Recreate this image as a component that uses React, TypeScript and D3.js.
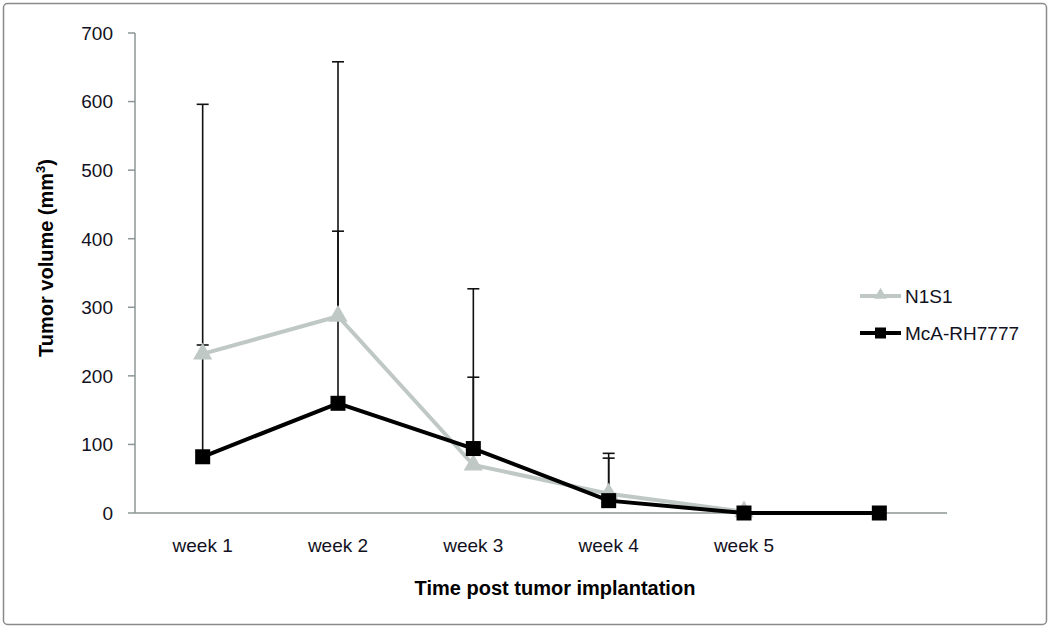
import { useEffect, useRef } from 'react';
import * as d3 from 'd3';

// categories on the x axis (last one has no label)
const weeks = ['week 1', 'week 2', 'week 3', 'week 4', 'week 5', ''];

// N1S1 means and upper error bars
const n1s1Values = [232, 287, 70, 28, 2];
const n1s1Upper = [245, 411, 198, 87, 6];

// McA-RH7777 means and upper error bars
const mcaValues = [82, 160, 94, 18, 0, 0];
const mcaUpper = [596, 658, 327, 80, 5, null];

const yTicks = [0, 100, 200, 300, 400, 500, 600, 700];

export default function App() {
  const svgRef = useRef<SVGSVGElement>(null);

  useEffect(() => {
    if (!svgRef.current) return;
    const svg = d3.select(svgRef.current);
    svg.selectAll('*').remove();

    const width = 1050;
    const height = 628;
    const left = 135;
    const right = 947;
    const top = 33;
    const bottom = 513;
    const font = 'Arial, "Liberation Sans", sans-serif';
    const textColor = '#111122';
    const axisColor = '#8c9696';

    // outer frame
    svg.append('rect')
      .attr('x', 3.5).attr('y', 3.5)
      .attr('width', width - 7).attr('height', height - 7)
      .attr('rx', 4)
      .attr('fill', '#fff')
      .attr('stroke', '#8a8a8a')
      .attr('stroke-width', 1.5);

    const x = d3.scaleBand<string>()
      .domain(weeks.map((w, i) => `${i}`))
      .range([left, right]);
    const cx = (i: number) => (x(`${i}`) as number) + x.bandwidth() / 2;

    const y = d3.scaleLinear().domain([0, 700]).range([bottom, top]);

    // y axis
    const yAxis = svg.append('g');
    yAxis.append('line')
      .attr('x1', left).attr('x2', left)
      .attr('y1', y(700)).attr('y2', bottom)
      .attr('stroke', axisColor).attr('stroke-width', 1.5);
    yTicks.forEach(t => {
      yAxis.append('line')
        .attr('x1', left - 7).attr('x2', left)
        .attr('y1', y(t)).attr('y2', y(t))
        .attr('stroke', axisColor).attr('stroke-width', 1.5);
      yAxis.append('text')
        .attr('x', 113).attr('y', y(t))
        .attr('dy', '0.36em')
        .attr('text-anchor', 'end')
        .attr('font-family', font).attr('font-size', 19)
        .attr('fill', textColor)
        .text(t);
    });

    // x axis
    svg.append('line')
      .attr('x1', left).attr('x2', right)
      .attr('y1', bottom).attr('y2', bottom)
      .attr('stroke', axisColor).attr('stroke-width', 1.5);
    weeks.forEach((w, i) => {
      svg.append('text')
        .attr('x', cx(i)).attr('y', 552)
        .attr('text-anchor', 'middle')
        .attr('font-family', font).attr('font-size', 19)
        .attr('fill', textColor)
        .text(w);
    });

    // axis titles
    svg.append('text')
      .attr('x', 555).attr('y', 595)
      .attr('text-anchor', 'middle')
      .attr('font-family', font).attr('font-size', 20).attr('font-weight', 'bold')
      .attr('fill', '#000')
      .text('Time post tumor implantation');

    const yTitle = svg.append('text')
      .attr('transform', `translate(53, 258) rotate(-90)`)
      .attr('text-anchor', 'middle')
      .attr('font-family', font).attr('font-size', 20).attr('font-weight', 'bold')
      .attr('fill', '#000');
    yTitle.append('tspan').text('Tumor volume (mm');
    yTitle.append('tspan').attr('font-size', 13).attr('dy', -8).text('3');
    yTitle.append('tspan').attr('dy', 8).text(')');

    // error bars
    const drawErrors = (vals: number[], ups: (number | null)[]) => {
      ups.forEach((u, i) => {
        if (u == null) return;
        svg.append('line')
          .attr('x1', cx(i)).attr('x2', cx(i))
          .attr('y1', y(vals[i])).attr('y2', y(u))
          .attr('stroke', '#111').attr('stroke-width', 1.6);
        svg.append('line')
          .attr('x1', cx(i) - 6).attr('x2', cx(i) + 6)
          .attr('y1', y(u)).attr('y2', y(u))
          .attr('stroke', '#111').attr('stroke-width', 1.6);
      });
    };
    drawErrors(mcaValues, mcaUpper);
    drawErrors(n1s1Values, n1s1Upper);

    const line = d3.line<number>()
      .x((d, i) => cx(i))
      .y(d => y(d));

    const gray = '#bfc8c5';

    // N1S1 series
    svg.append('path')
      .datum(n1s1Values)
      .attr('d', line)
      .attr('fill', 'none')
      .attr('stroke', gray)
      .attr('stroke-width', 4);
    const tri = d3.symbol().type(d3.symbolTriangle).size(160);
    svg.selectAll('.tri')
      .data(n1s1Values)
      .join('path')
      .attr('class', 'tri')
      .attr('d', tri)
      .attr('transform', (d, i) => `translate(${cx(i)},${y(d)})`)
      .attr('fill', gray);

    // McA-RH7777 series
    svg.append('path')
      .datum(mcaValues)
      .attr('d', line)
      .attr('fill', 'none')
      .attr('stroke', '#000')
      .attr('stroke-width', 4);
    svg.selectAll('.sq')
      .data(mcaValues)
      .join('rect')
      .attr('class', 'sq')
      .attr('x', (d, i) => cx(i) - 7.5)
      .attr('y', d => y(d) - 7.5)
      .attr('width', 15).attr('height', 15)
      .attr('fill', '#000');

    // legend
    const legend = svg.append('g');
    const items = [
      { name: 'N1S1', color: gray, marker: 'tri' },
      { name: 'McA-RH7777', color: '#000', marker: 'sq' }
    ];
    items.forEach((it, i) => {
      const ly = 296 + i * 37;
      legend.append('line')
        .attr('x1', 860).attr('x2', 901)
        .attr('y1', ly).attr('y2', ly)
        .attr('stroke', it.color).attr('stroke-width', 4);
      if (it.marker === 'tri') {
        legend.append('path')
          .attr('d', d3.symbol().type(d3.symbolTriangle).size(70)())
          .attr('transform', `translate(880.5,${ly - 1})`)
          .attr('fill', it.color);
      } else {
        legend.append('rect')
          .attr('x', 875).attr('y', ly - 5.5)
          .attr('width', 11).attr('height', 11)
          .attr('fill', it.color);
      }
      legend.append('text')
        .attr('x', 905).attr('y', ly)
        .attr('dy', '0.36em')
        .attr('font-family', font).attr('font-size', 19)
        .attr('fill', textColor)
        .text(it.name);
    });
  }, []);

  return (
    <div style={{ position: 'absolute', left: 0, top: 0 }}>
      <svg ref={svgRef} width={1050} height={628} style={{ display: 'block' }}></svg>
    </div>
  );
}
